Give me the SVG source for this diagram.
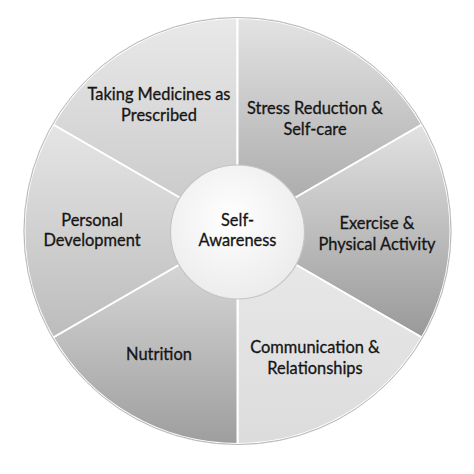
<svg xmlns="http://www.w3.org/2000/svg" width="474" height="474" viewBox="0 0 474 474">
<style>
.sec{stroke:#ffffff;stroke-width:2;stroke-linejoin:round}
.lbl{font-family:Lato,"Open Sans","Liberation Sans",sans-serif;font-size:16.4px;fill:#151515;stroke:#151515;stroke-width:0.3;text-anchor:middle}
</style>
<defs>
<linearGradient id="gMed" x1="0" y1="0" x2="0" y2="1"><stop offset="0" stop-color="#e9e9e9"/><stop offset="1" stop-color="#c6c6c6"/></linearGradient>
<linearGradient id="gStr" x1="0" y1="0" x2="0" y2="1"><stop offset="0" stop-color="#e3e3e3"/><stop offset="1" stop-color="#a3a3a3"/></linearGradient>
<linearGradient id="gExe" x1="0" y1="0" x2="0" y2="1"><stop offset="0" stop-color="#e2e2e2"/><stop offset="1" stop-color="#999999"/></linearGradient>
<linearGradient id="gCom" x1="0" y1="0" x2="0" y2="1"><stop offset="0" stop-color="#e9e9e9"/><stop offset="1" stop-color="#dcdcdc"/></linearGradient>
<linearGradient id="gNut" x1="0" y1="0" x2="0" y2="1"><stop offset="0" stop-color="#e0e0e0"/><stop offset="1" stop-color="#9e9e9e"/></linearGradient>
<linearGradient id="gPer" x1="0" y1="0" x2="0" y2="1"><stop offset="0" stop-color="#e5e5e5"/><stop offset="1" stop-color="#bcbcbc"/></linearGradient>
<radialGradient id="gCen" cx="0.45" cy="0.4" r="0.6"><stop offset="0" stop-color="#ffffff"/><stop offset="1" stop-color="#ececec"/></radialGradient>
</defs>
<rect width="474" height="474" fill="#ffffff"/>
<circle cx="237.5" cy="231" r="214" fill="#d0d0d0"/>
<g id="medicines">
<path class="sec" d="M237.5,231 L237.5,18 A213,213 0 0 0 53.04,124.5 Z" fill="url(#gMed)"/>
<text class="lbl" x="159" y="100">Taking Medicines as</text>
<text class="lbl" x="159" y="121">Prescribed</text>
</g>
<g id="stress">
<path class="sec" d="M237.5,231 L421.96,124.5 A213,213 0 0 0 237.5,18 Z" fill="url(#gStr)"/>
<text class="lbl" x="315" y="114">Stress Reduction &amp;</text>
<text class="lbl" x="315" y="135">Self-care</text>
</g>
<g id="exercise">
<path class="sec" d="M237.5,231 L421.96,337.5 A213,213 0 0 0 421.96,124.5 Z" fill="url(#gExe)"/>
<text class="lbl" x="377" y="229">Exercise &amp;</text>
<text class="lbl" x="377" y="250">Physical Activity</text>
</g>
<g id="communication">
<path class="sec" d="M237.5,231 L237.5,444 A213,213 0 0 0 421.96,337.5 Z" fill="url(#gCom)"/>
<text class="lbl" x="315" y="353">Communication &amp;</text>
<text class="lbl" x="315" y="374">Relationships</text>
</g>
<g id="nutrition">
<path class="sec" d="M237.5,231 L53.04,337.5 A213,213 0 0 0 237.5,444 Z" fill="url(#gNut)"/>
<text class="lbl" x="159" y="360">Nutrition</text>
</g>
<g id="personal">
<path class="sec" d="M237.5,231 L53.04,124.5 A213,213 0 0 0 53.04,337.5 Z" fill="url(#gPer)"/>
<text class="lbl" x="92" y="226">Personal</text>
<text class="lbl" x="92" y="246">Development</text>
</g>
<circle cx="237.5" cy="231" r="213.5" fill="none" stroke="#b5b5b5" stroke-width="1"/>
<g id="self-awareness">
<circle cx="237.5" cy="232" r="67" fill="url(#gCen)" stroke="#c4c4c4" stroke-width="1.2"/>
<text class="lbl" x="237.5" y="226">Self-</text>
<text class="lbl" x="237.5" y="246">Awareness</text>
</g>
</svg>
